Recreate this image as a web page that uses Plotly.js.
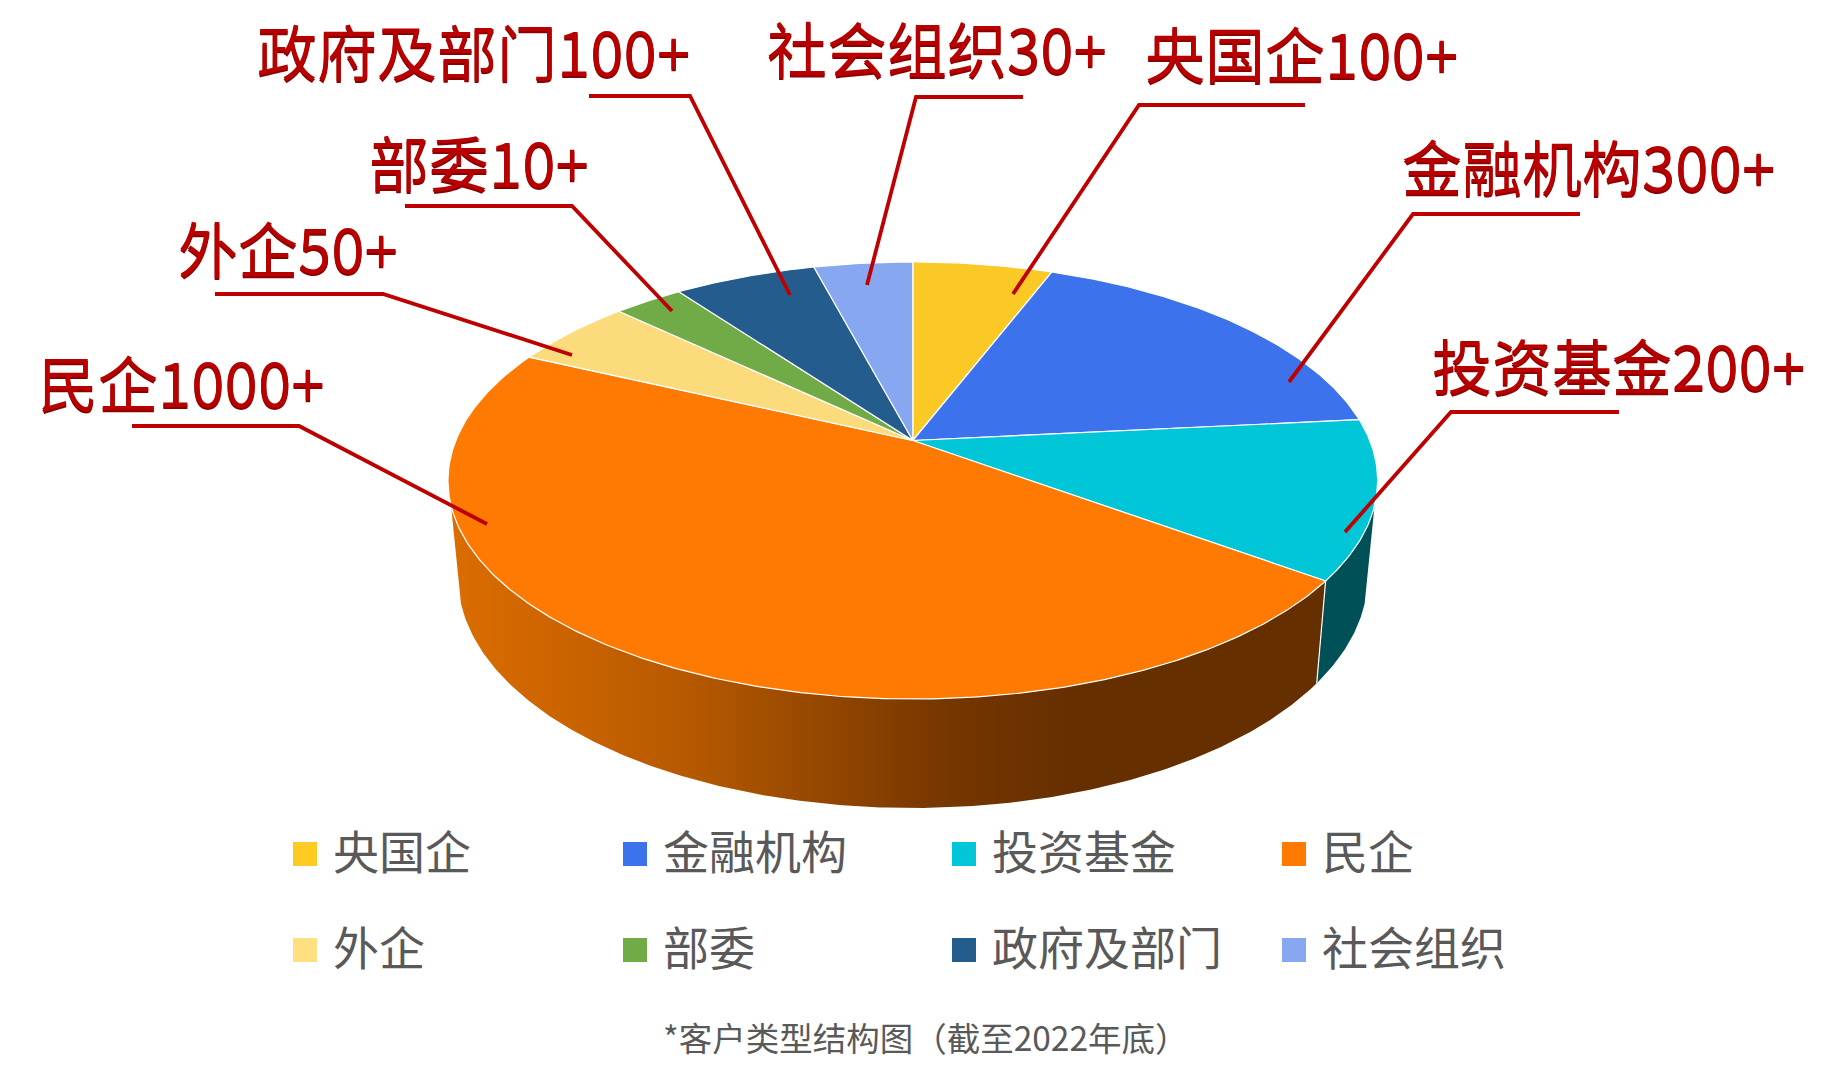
<!DOCTYPE html>
<html><head><meta charset="utf-8">
<script src="https://cdn.plot.ly/plotly-3.0.1.min.js"></script>
<style>html,body{margin:0;padding:0;background:#fff}#c{width:1842px;height:1078px}</style>
</head><body><div id="c"></div>
<script>
const categories=['央国企','金融机构','投资基金','民企','外企','部委','政府及部门','社会组织'];
const shares=[5.8,17.6,11.7,46.9,5.1,2.9,5.9,4.1];
const colors=['#FBC926','#3C72EC','#00C6D7','#FE7A02','#FBDB7C','#70AB48','#255C8E','#87A8F1'];
const legendColors=['#FFCB22','#3C72EC','#00C6D7','#FE7A02','#FFDF80','#70AB48','#255C8E','#87A8F1'];
const calloutTexts=['央国企100+','金融机构300+','投资基金200+','民企1000+','外企50+','部委10+','政府及部门100+','社会组织30+'];
const caption='*客户类型结构图（截至2022年底）';

const W=1842,H=1078;
// projected disc: top face through a perspective map, bottom rim as an ellipse under it
const P={cx:912.8,y0:440.5,rx:457,ry:211.2,k:0.183};
const TOP={cy:480.5,rx:465,ry:218.5}, LOW={cy:577,rx:455,ry:231};
function proj(phi,lower){const u=Math.sin(phi),v=-Math.cos(phi),d=1-P.k*v;
  const x=P.cx+P.rx*u/d,y=P.y0+P.ry*v/d;
  if(!lower)return [x,y];
  return [P.cx+LOW.rx*(x-P.cx)/TOP.rx, LOW.cy+LOW.ry*(y-TOP.cy)/TOP.ry];}
function arc(a,b,lower){const n=Math.max(2,Math.ceil(Math.abs(b-a)/0.01)),o=[];
  for(let i=0;i<=n;i++)o.push(proj(a+(b-a)*i/n,lower));return o;}
const total=shares.reduce((a,b)=>a+b,0);
let acc=0;const bounds=shares.map(v=>{const a=acc/total*2*Math.PI;acc+=v;return [a,acc/total*2*Math.PI];});

const traces=[];
function poly(pts,extra){traces.push(Object.assign({type:'scatter',mode:'lines',x:pts.map(p=>p[0]),y:pts.map(p=>p[1]),fill:'toself',showlegend:false,hoverinfo:'skip',line:{color:'#fff',width:1.2}},extra));}
// side walls
const b2b=bounds[2][1],b3a=bounds[3][0];
const silhouetteR=107*Math.PI/180, leftStop=253*Math.PI/180;
poly(arc(silhouetteR,b2b,false).concat(arc(b2b,silhouetteR,true)),{fillcolor:'#005157',line:{color:'rgba(255,255,255,0)',width:0}});
poly(arc(b3a,leftStop,false).concat(arc(leftStop,b3a,true)),{
  fillcolor:'#662f00',
  fillgradient:{type:'horizontal',start:450,stop:1340,colorscale:[[0,'#DB6D00'],[0.12,'#CC6400'],[0.27,'#B55900'],[0.55,'#773700'],[0.7,'#662F00'],[1,'#662F00']]},
  line:{color:'rgba(255,255,255,0)',width:0}});
// boundary line between the two walls
const eA=proj(b2b,false),eB=proj(b2b,true);
traces.push({type:'scatter',mode:'lines',x:[eA[0],eB[0]],y:[eA[1],eB[1]],line:{color:'#fff',width:1.2},showlegend:false,hoverinfo:'skip'});
// top face
shares.forEach((v,i)=>{const pts=[[P.cx,P.y0]].concat(arc(bounds[i][0],bounds[i][1],false));pts.push([P.cx,P.y0]);
  poly(pts,{fillcolor:colors[i],name:categories[i]});});
// legend swatches
const lx=[293,623,952,1282,293,623,952,1282];
const ly=[854,854,854,854,950,950,950,950];
traces.push({type:'scatter',mode:'markers',x:lx.map(v=>v+12),y:ly,marker:{symbol:'square',size:24,color:legendColors},showlegend:false,hoverinfo:'skip'});

const labelFont={family:'"Noto Sans CJK SC"',size:60,color:'#B80000',weight:400,shadow:'0 1.5px 0 #8a0000'};
// callout [text x, text y, line start x, line y, elbow x, tip x, tip y]
const callouts=[
 [1143,51,1305,105,1139,1013,294],
 [1400,164,1580,214,1413,1289,382],
 [1430,363,1619,412,1451,1345,532],
 [36,380,132,426,299,487,524],
 [176,246,215,294,383,572,355],
 [367,160,405,206,572,672,311],
 [255,49,589,96,690,790,295],
 [765,46,1023,97,916,867,285]
];
const annotations=[],shapes=[];
callouts.forEach((c,i)=>{
  annotations.push({xref:'x',yref:'y',x:c[0],y:c[1],xanchor:'left',yanchor:'middle',showarrow:false,text:calloutTexts[i],font:labelFont});
  shapes.push({type:'path',xref:'x',yref:'y',path:`M${c[2]},${c[3]}L${c[4]},${c[3]}L${c[5]},${c[6]}`,line:{color:'#BE0000',width:3.8}});
});
categories.forEach((t,i)=>annotations.push({xref:'x',yref:'y',x:lx[i]+37.5,y:ly[i]-5,xanchor:'left',yanchor:'middle',showarrow:false,text:t,font:{family:'"Noto Sans CJK SC"',size:46,color:'#595959'}}));
annotations.push({xref:'x',yref:'y',x:926,y:1036,xanchor:'center',yanchor:'middle',showarrow:false,text:caption,font:{family:'"Noto Sans CJK SC"',size:33.5,color:'#595959'}});

Plotly.newPlot('c',traces,{
  width:W,height:H,margin:{l:0,r:0,t:0,b:0},paper_bgcolor:'#fff',plot_bgcolor:'#fff',showlegend:false,
  xaxis:{range:[0,W],visible:false,fixedrange:true},
  yaxis:{range:[H,0],visible:false,fixedrange:true},
  annotations,shapes
},{displayModeBar:false,staticPlot:true});
</script></body></html>
